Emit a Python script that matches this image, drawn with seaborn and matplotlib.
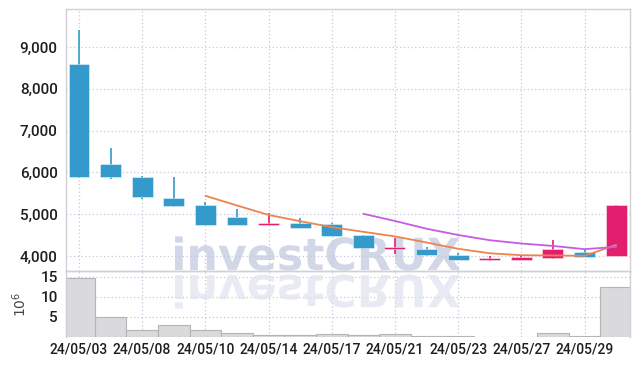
import numpy as np
import pandas as pd
import matplotlib
matplotlib.use("Agg")
import matplotlib.pyplot as plt
import seaborn as sns
from matplotlib.textpath import TextPath
from matplotlib.patches import PathPatch
from matplotlib.font_manager import FontProperties
from matplotlib.transforms import Affine2D
from matplotlib.ticker import FuncFormatter

dates = ["24/05/03", "24/05/07", "24/05/08", "24/05/09", "24/05/10", "24/05/13",
         "24/05/14", "24/05/16", "24/05/17", "24/05/20", "24/05/21", "24/05/22",
         "24/05/23", "24/05/24", "24/05/27", "24/05/28", "24/05/29", "24/05/30"]
opens = [8590, 6200, 5900, 5390, 5230, 4940, 4760, 4800, 4760, 4500, 4190, 4160,
         4020, 3910, 3930, 3960, 4100, 4005]
highs = [9400, 6580, 5920, 5900, 5290, 5130, 5020, 4920, 4790, 4510, 4440, 4220,
         4060, 4000, 4000, 4370, 4140, 5230]
lows = [5870, 5830, 5360, 5180, 4730, 4740, 4760, 4670, 4480, 4190, 4050, 4010,
        3900, 3890, 3920, 3930, 3990, 4000]
closes = [5910, 5900, 5430, 5200, 4760, 4750, 4770, 4680, 4490, 4200, 4200, 4040,
          3930, 3950, 3970, 4170, 4000, 5230]
volumes_m = [14.7, 5.0, 1.75, 3.0, 1.75, 1.0, 0.5, 0.5, 0.75, 0.5, 0.75, 0.25,
             0.25, 0.05, 0.05, 1.0, 0.25, 12.5]

UP = "#e41e6e"
DOWN = "#3499cb"
MA5C = "#ef8350"
MA10C = "#c65be6"
GRID = "#c3c9dc"
SPINE = "#d0d0d6"
TXT = "#1e1e1e"
FONT = ["Roboto", "DejaVu Sans"]

df = pd.DataFrame({"i": np.arange(len(dates)), "date": dates, "open": opens,
                   "high": highs, "low": lows, "close": closes, "vol": volumes_m})
df["ma5"] = df["close"].rolling(5).mean()
df["ma10"] = df["close"].rolling(10).mean()

sns.set_theme(style="white")
plt.rcParams["font.family"] = FONT
plt.rcParams["font.weight"] = "medium"

fig = plt.figure(figsize=(6.39, 3.66), dpi=100)
ax = fig.add_axes([66/639, 1-271/366, (630-66)/639, (271-9)/366])
axv = fig.add_axes([66/639, 1-337/366, (630-66)/639, (337-271)/366], sharex=ax)
ax.set_zorder(2)
axv.set_zorder(1)

# watermark (behind data)
fp = FontProperties(family="DejaVu Sans", weight="bold")
tp = TextPath((0, 0), "investCRUX", size=1, prop=fp)
ext = tp.get_extents()
W = 285.0 / ext.width
px = Affine2D().scale(1.0 / fig.dpi) + fig.dpi_scale_trans
t1 = Affine2D().scale(W, W).translate(175 - ext.x0 * W, 366 - 270) + px
fig.patches.append(PathPatch(tp, transform=t1, facecolor="#c9d0e3", edgecolor="none",
                             alpha=0.85, zorder=1.5))
t2 = Affine2D().scale(W, -W).translate(175 - ext.x0 * W, 366 - 275) + px
fig.patches.append(PathPatch(tp, transform=t2, facecolor="#dfe3ee", edgecolor="none",
                             alpha=0.7, zorder=1.5))
for a in (ax, axv):
    a.set_facecolor("none")

# candles
x = df["i"].values
up = df["close"] >= df["open"]
cols = np.where(up, UP, DOWN)
ax.vlines(x, df["low"], df["high"], colors=cols, linewidth=1.2, zorder=3)
bottoms = np.minimum(df["open"], df["close"]) - 15
heights = np.maximum(np.abs(df["close"] - df["open"]), 25) + 15
ax.bar(x, heights, bottom=bottoms, width=0.66, color=cols,
       edgecolor=(1, 1, 1, 0.45), linewidth=0.7, zorder=4)

sns.lineplot(data=df, x="i", y="ma5", ax=ax, color=MA5C, linewidth=1.3, zorder=5)
sns.lineplot(data=df, x="i", y="ma10", ax=ax, color=MA10C, linewidth=1.3, zorder=5)

ax.set_ylim(3640, 9910)
ax.set_xlim(-0.41, 17.44)
ax.set_yticks([4000, 5000, 6000, 7000, 8000, 9000])
ax.yaxis.set_major_formatter(FuncFormatter(lambda v, p: f"{int(v):,}"))
ax.set_xlabel("")
ax.set_ylabel("")
ax.tick_params(axis="x", labelbottom=False, length=0)
ax.tick_params(axis="y", length=0, labelsize=11, labelcolor=TXT, pad=6)

# volume
sns.barplot(x=df["i"], y=df["vol"], ax=axv, color="#dadadc", width=1.0,
            edgecolor="#b5b5b9", linewidth=0.8, native_scale=True, zorder=2)
axv.set_ylim(0, 16.5)
axv.set_yticks([5, 10, 15])
axv.set_xlim(-0.41, 17.44)
axv.set_xticks(x[::2])
axv.set_xticklabels(df["date"].values[::2])
axv.set_xlabel("")
axv.set_ylabel(r"$10^6$", fontsize=10, color="#444444", labelpad=8)
axv.tick_params(axis="both", length=0, labelsize=10, labelcolor=TXT, pad=4)
axv.tick_params(axis="y", labelsize=11, pad=6)

for a in (ax, axv):
    a.grid(True, color=GRID, linestyle=(0, (1, 2)), linewidth=0.9)
    a.set_axisbelow(True)
    for s in a.spines.values():
        s.set_color(SPINE)
        s.set_linewidth(1.0)
axv.spines["bottom"].set_visible(False)
ax.set_xticks(x[::2])

fig.savefig("out.png", dpi=100)
